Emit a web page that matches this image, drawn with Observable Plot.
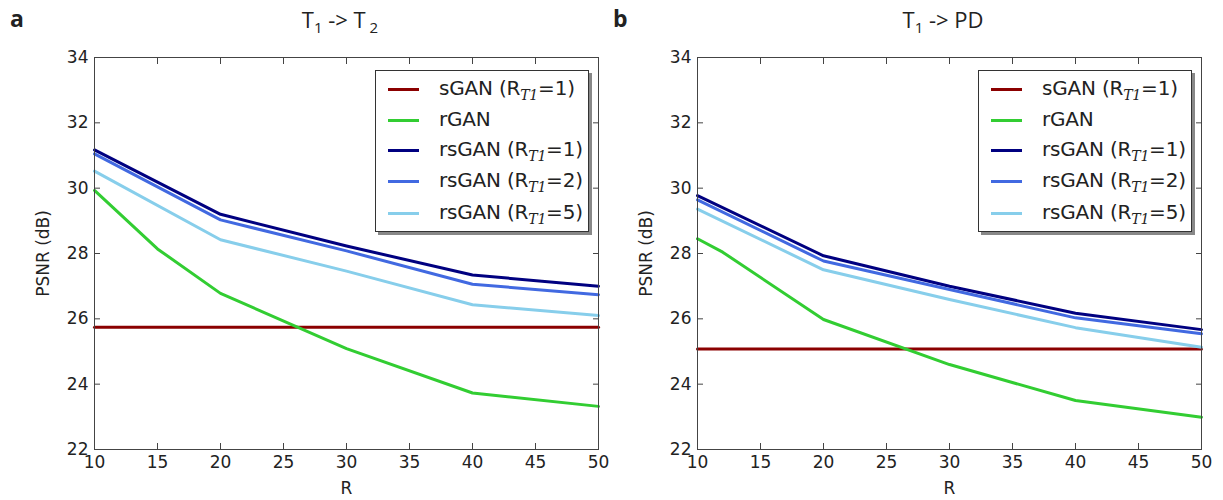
<!DOCTYPE html>
<html>
<head>
<meta charset="utf-8">
<script src="https://cdn.jsdelivr.net/npm/d3@7"></script>
<script src="https://cdn.jsdelivr.net/npm/@observablehq/plot@0.6"></script>
<style>
  html, body { margin: 0; padding: 0; background: #fff; }
  #root { position: relative; width: 1223px; height: 500px; overflow: hidden; font-family: "DejaVu Sans", sans-serif; color: #222; }
  .panel { position: absolute; top: 0; }
  .plabel { position: absolute; font-family: "Open Sans", "DejaVu Sans", sans-serif; font-weight: bold; font-size: 23px; }
  .title { position: absolute; font-size: 22px; text-align: center; width: 300px; font-family: "Open Sans", "DejaVu Sans", sans-serif; }
  .title sub { font-size: 15px; }
  .legend { position: absolute; background: #fff; border: 1px solid #333; box-shadow: 3px 3px 0 #888; }
  .legend .row { position: absolute; left: 0; height: 24px; width: 100%; }
  .legend .sw { position: absolute; left: 12px; width: 31px; height: 3px; top: 11px; }
  .legend .tx { position: absolute; left: 63px; top: -1px; font-size: 20px; white-space: nowrap; letter-spacing: -0.2px; }
  .legend .tx sub { font-family: "DejaVu Serif", serif; font-style: italic; font-size: 14px; }
</style>
</head>
<body>
<div id="root"></div>
<script>
// ---- data ----
const seriesNames = ["sGAN", "rGAN", "rsGAN1", "rsGAN2", "rsGAN5"];
const seriesColors = ["#8b0000", "#32cd32", "#000080", "#4169e1", "#87ceeb"];
const legendLabels = [
  ["sGAN (R", "T1", "=1)"],
  ["rGAN", "", ""],
  ["rsGAN (R", "T1", "=1)"],
  ["rsGAN (R", "T1", "=2)"],
  ["rsGAN (R", "T1", "=5)"]
];
const R = [10, 20, 30, 40, 50];
const xTicks = [10, 15, 20, 25, 30, 35, 40, 45, 50];
const yTicks = [22, 24, 26, 28, 30, 32, 34];

// panel a: T1 -> T2
const a_sGAN = [25.74, 25.74, 25.74, 25.74, 25.74];
const a_rGAN_R = [10, 15, 20, 30, 40, 50];
const a_rGAN = [29.93, 28.14, 26.78, 25.09, 23.73, 23.32];
const a_rsGAN1 = [31.17, 29.20, 28.23, 27.34, 27.00];
const a_rsGAN2 = [31.05, 29.03, 28.08, 27.06, 26.74];
const a_rsGAN5 = [30.52, 28.42, 27.46, 26.43, 26.10];

// panel b: T1 -> PD
const b_sGAN = [25.08, 25.08, 25.08, 25.08, 25.08];
const b_rGAN_R = [10, 12, 20, 30, 40, 50];
const b_rGAN = [28.45, 28.04, 25.98, 24.60, 23.50, 22.99];
const b_rsGAN1 = [29.77, 27.93, 27.00, 26.17, 25.67];
const b_rsGAN2 = [29.64, 27.77, 26.90, 26.03, 25.54];
const b_rsGAN5 = [29.36, 27.50, 26.59, 25.73, 25.13];

function rows(name, xs, vs) { return xs.map((x, i) => ({s: name, R: x, v: vs[i]})); }

function makePanel(data) {
  const blank = () => "";
  return Plot.plot({
    width: 610, height: 500,
    marginLeft: 94, marginRight: 12, marginTop: 57, marginBottom: 51,
    x: {domain: [10, 50]},
    y: {domain: [22, 34]},
    color: {domain: seriesNames, range: seriesColors},
    style: {fontFamily: "DejaVu Sans, sans-serif", fontSize: "17px", color: "#222", background: "transparent"},
    marks: [
      Plot.lineY(data, {x: "R", y: "v", z: "s", stroke: "s", strokeWidth: 3}),
      Plot.frame({stroke: "#444", strokeWidth: 1}),
      Plot.axisX({anchor: "bottom", ticks: xTicks, tickSize: 0, tickPadding: 6, fontSize: 17, label: "R", labelAnchor: "center", labelArrow: "none", labelOffset: 44}),
      Plot.axisX({anchor: "bottom", ticks: xTicks, tickSize: -6, tickFormat: blank, label: null, stroke: "#444"}),
      Plot.axisX({anchor: "top", ticks: xTicks, tickSize: -6, tickFormat: blank, label: null, stroke: "#444"}),
      Plot.axisY({anchor: "left", ticks: yTicks, tickSize: 0, tickPadding: 6, fontSize: 17, label: "PSNR (dB)", labelAnchor: "center", labelArrow: "none", labelOffset: 58}),
      Plot.axisY({anchor: "left", ticks: yTicks, tickSize: -6, tickFormat: blank, label: null, stroke: "#444"}),
      Plot.axisY({anchor: "right", ticks: yTicks, tickSize: -6, tickFormat: blank, label: null, stroke: "#444"})
    ]
  });
}

const dataA = [
  ...rows("sGAN", R, a_sGAN), ...rows("rGAN", a_rGAN_R, a_rGAN),
  ...rows("rsGAN1", R, a_rsGAN1), ...rows("rsGAN2", R, a_rsGAN2), ...rows("rsGAN5", R, a_rsGAN5)
];
const dataB = [
  ...rows("sGAN", R, b_sGAN), ...rows("rGAN", b_rGAN_R, b_rGAN),
  ...rows("rsGAN1", R, b_rsGAN1), ...rows("rsGAN2", R, b_rsGAN2), ...rows("rsGAN5", R, b_rsGAN5)
];

const root = document.getElementById("root");

function addPanel(data, left, letter, titleHTML) {
  const wrap = document.createElement("div");
  wrap.className = "panel";
  wrap.style.left = left + "px";
  wrap.appendChild(makePanel(data));
  root.appendChild(wrap);

  const lab = document.createElement("div");
  lab.className = "plabel";
  lab.style.left = (left + 10) + "px";
  lab.style.top = "2px";
  lab.textContent = letter;
  root.appendChild(lab);

  const t = document.createElement("div");
  t.className = "title";
  t.style.left = (left + 340 - 150) + "px";
  t.style.top = "4px";
  t.innerHTML = titleHTML;
  root.appendChild(t);

  const lg = document.createElement("div");
  lg.className = "legend";
  lg.style.left = (left + 375) + "px";
  lg.style.top = "70px";
  lg.style.width = "212px";
  lg.style.height = "160px";
  const rowY = [6, 37, 67, 98, 130];
  seriesNames.forEach((n, i) => {
    const row = document.createElement("div");
    row.className = "row";
    row.style.top = rowY[i] + "px";
    const sw = document.createElement("div");
    sw.className = "sw";
    sw.style.background = seriesColors[i];
    const tx = document.createElement("div");
    tx.className = "tx";
    const [p, sub, q] = legendLabels[i];
    tx.innerHTML = sub ? `${p}<sub>${sub}</sub>${q}` : p;
    row.appendChild(sw);
    row.appendChild(tx);
    lg.appendChild(row);
  });
  root.appendChild(lg);
}

addPanel(dataA, 0, "a", "T<sub>1</sub> -&gt; T<sub> 2</sub>");
addPanel(dataB, 603, "b", "T<sub>1</sub> -&gt; PD");
</script>
</body>
</html>
